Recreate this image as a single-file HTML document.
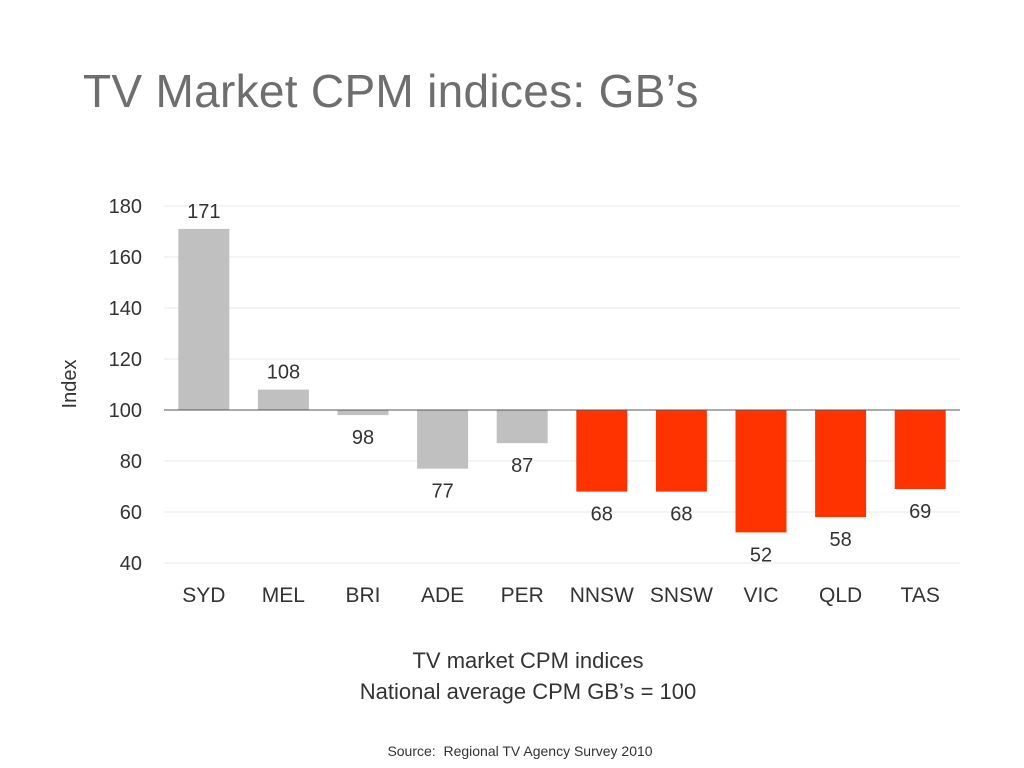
<!DOCTYPE html>
<html><head><meta charset="utf-8">
<style>
html,body{margin:0;padding:0;background:#fff;}
body{width:1024px;height:768px;position:relative;font-family:"Liberation Sans",sans-serif;overflow:hidden;}
.title{position:absolute;left:83px;top:64px;font-size:46px;color:#6e6e6e;letter-spacing:0.3px;}
.cap{position:absolute;left:0;width:1056px;text-align:center;color:#333;font-size:22px;}
.src{position:absolute;left:0;width:1040px;text-align:center;color:#333;font-size:14px;top:743px;}
svg{position:absolute;left:0;top:0;}
</style></head><body>
<div class="title">TV Market CPM indices: GB’s</div>
<svg id="chart" width="1024" height="768"></svg>
<div class="cap" style="top:648px">TV market CPM indices</div>
<div class="cap" style="top:679px">National average CPM GB’s = 100</div>
<div class="src">Source:&nbsp; Regional TV Agency Survey 2010</div>
<script>
const categories = ["SYD","MEL","BRI","ADE","PER","NNSW","SNSW","VIC","QLD","TAS"];
const values = [171,108,98,77,87,68,68,52,58,69];
const regional = [false,false,false,false,false,true,true,true,true,true];
const yTicks = [40,60,80,100,120,140,160,180];
const baseline = 100;

const svg = document.getElementById('chart');
const NS = 'http://www.w3.org/2000/svg';
const x0 = 164, x1 = 960, yTop = 206, yBot = 563, vMin = 40, vMax = 180;
const y = v => yBot - (v - vMin) / (vMax - vMin) * (yBot - yTop);
const step = (x1 - x0) / categories.length;
const xc = i => x0 + step * (i + 0.5);
const bw = 51;
function mk(tag, attrs, text){
  const e = document.createElementNS(NS, tag);
  for (const k in attrs) e.setAttribute(k, attrs[k]);
  if (text !== undefined) e.textContent = text;
  svg.appendChild(e);
  return e;
}
yTicks.forEach(t => {
  const g = mk('line', {x1:x0, x2:x1, y1:y(t), y2:y(t), stroke:'#e8e8e8', 'stroke-width':1});
  
  
  const l = mk('text', {x:142, y:y(t)+7, 'text-anchor':'end', 'font-size':20, fill:'#333', 'font-family':'Liberation Sans, sans-serif'}, t);
  
  
});
const yt = mk('text', {x:0, y:0, transform:'translate(76,384) rotate(-90)', 'text-anchor':'middle', 'font-size':20, fill:'#333', 'font-family':'Liberation Sans, sans-serif'}, 'Index');


categories.forEach((c, i) => {
  const v = values[i];
  const top = Math.min(y(v), y(baseline)), h = Math.abs(y(v) - y(baseline));
  const r = mk('rect', {x:xc(i)-bw/2, y:top, width:bw, height:h, fill: regional[i] ? '#ff3300' : '#c0c0c0'});
  
  
  const ly = v >= baseline ? y(v) - 11 : y(v) + 29;
  const t = mk('text', {x:xc(i), y:ly, 'text-anchor':'middle', 'font-size':20, fill:'#333', 'font-family':'Liberation Sans, sans-serif'}, v);
  
  
  const cl = mk('text', {x:xc(i), y:602, 'text-anchor':'middle', 'font-size':21, fill:'#333', 'font-family':'Liberation Sans, sans-serif'}, c);
  
  
});
const bl = mk('line', {x1:x0, x2:x1, y1:y(baseline), y2:y(baseline), stroke:'#555', 'stroke-width':1});


</script>
</body></html>
